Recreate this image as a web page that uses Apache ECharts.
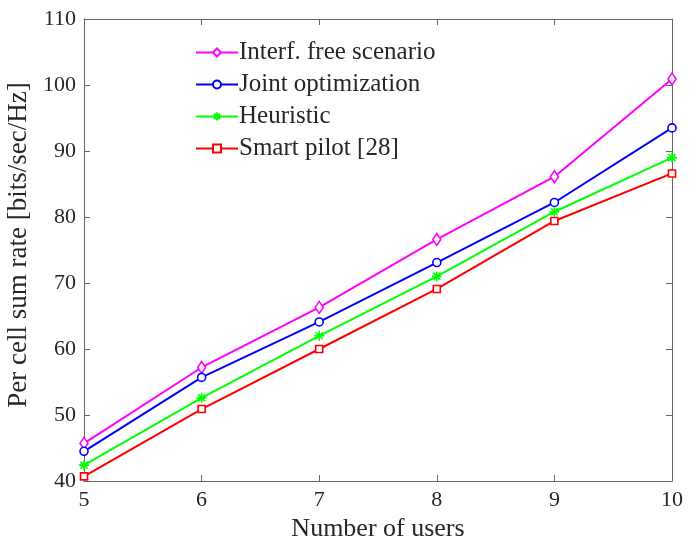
<!DOCTYPE html>
<html>
<head>
<meta charset="utf-8">
<script src="https://cdn.jsdelivr.net/npm/echarts@6/dist/echarts.min.js"></script>
<style>
  html, body { margin: 0; padding: 0; background: #fff; }
  #chart { width: 697px; height: 540px; }
</style>
</head>
<body>
<div id="chart"></div>
<script>
var users = [5, 6, 7, 8, 9, 10];
var interfFree = [45.7, 57.2, 66.3, 76.6, 86.1, 100.9];
var jointOpt = [44.5, 55.7, 64.1, 73.1, 82.2, 93.5];
var heuristic = [42.4, 52.6, 62.0, 71.0, 80.8, 89.0];
var smartPilot = [40.7, 50.9, 60.0, 69.1, 79.4, 86.6];

var chart = echarts.init(document.getElementById('chart'), null, { renderer: 'canvas' });

var serif = 'Liberation Serif';
var axisColor = '#666666';
var textColor = '#262626';
var asterisk = 'path://M5,0L5,10M0,5L10,5M1.5,1.5L8.5,8.5M1.5,8.5L8.5,1.5';

function pairs(vals) {
  return users.map(function (u, i) { return [u, vals[i]]; });
}

function makeSeries(name, vals, color, symbol, size) {
  return {
    name: name,
    type: 'line',
    data: pairs(vals),
    symbol: symbol,
    symbolSize: size,
    showAllSymbol: true,
    lineStyle: { color: color, width: 2 },
    itemStyle: { color: symbol === asterisk ? color : '#ffffff', borderColor: color, borderWidth: 1.6 },
    emphasis: { disabled: true },
    animation: false
  };
}

var option = {
  backgroundColor: '#ffffff',
  textStyle: { fontFamily: serif },
  grid: { left: 84, right: 25, top: 19, bottom: 59, containLabel: false, outerBoundsMode: 'none' },
  legend: {
    left: 190,
    top: 35,
    orient: 'vertical',
    itemGap: 7,
    itemWidth: 42,
    itemHeight: 10,
    textStyle: { fontFamily: serif, fontSize: 25, color: textColor, padding: [0, 0, 0, -4] },
    data: ['Interf. free scenario', 'Joint optimization', 'Heuristic', 'Smart pilot [28]']
  },
  xAxis: [{
    type: 'value',
    min: 5,
    max: 10,
    interval: 1,
    name: 'Number of users',
    nameLocation: 'middle',
    nameGap: 33,
    nameTextStyle: { fontFamily: serif, fontSize: 26, color: textColor },
    axisLine: { lineStyle: { color: axisColor, width: 1 } },
    axisTick: { inside: true, length: 6, lineStyle: { color: axisColor } },
    axisLabel: { fontFamily: serif, fontSize: 22, color: textColor, margin: 8 },
    splitLine: { show: false }
  }, {
    type: 'value',
    position: 'top',
    min: 5,
    max: 10,
    interval: 1,
    axisLine: { lineStyle: { color: axisColor, width: 1 } },
    axisTick: { inside: true, length: 6, lineStyle: { color: axisColor } },
    axisLabel: { show: false },
    splitLine: { show: false }
  }],
  yAxis: [{
    type: 'value',
    min: 40,
    max: 110,
    interval: 10,
    name: 'Per cell sum rate [bits/sec/Hz]',
    nameLocation: 'middle',
    nameGap: 45,
    nameTextStyle: { fontFamily: serif, fontSize: 27, color: textColor, padding: [0, 0, 0, 10] },
    axisLine: { show: true, lineStyle: { color: axisColor, width: 1 } },
    axisTick: { show: true, inside: true, length: 6, lineStyle: { color: axisColor } },
    axisLabel: { fontFamily: serif, fontSize: 22, color: textColor, margin: 8 },
    splitLine: { show: false }
  }, {
    type: 'value',
    position: 'right',
    min: 40,
    max: 110,
    interval: 10,
    axisLine: { show: true, lineStyle: { color: axisColor, width: 1 } },
    axisTick: { show: true, inside: true, length: 6, lineStyle: { color: axisColor } },
    axisLabel: { show: false },
    splitLine: { show: false }
  }],
  series: [
    makeSeries('Interf. free scenario', interfFree, '#ff00ff', 'diamond', [8, 12]),
    makeSeries('Joint optimization', jointOpt, '#0000ff', 'circle', 8),
    makeSeries('Heuristic', heuristic, '#00ff00', asterisk, 10),
    makeSeries('Smart pilot [28]', smartPilot, '#ff0000', 'rect', 7)
  ]
};

chart.setOption(option);
window.addEventListener('resize', chart.resize);
</script>
</body>
</html>
